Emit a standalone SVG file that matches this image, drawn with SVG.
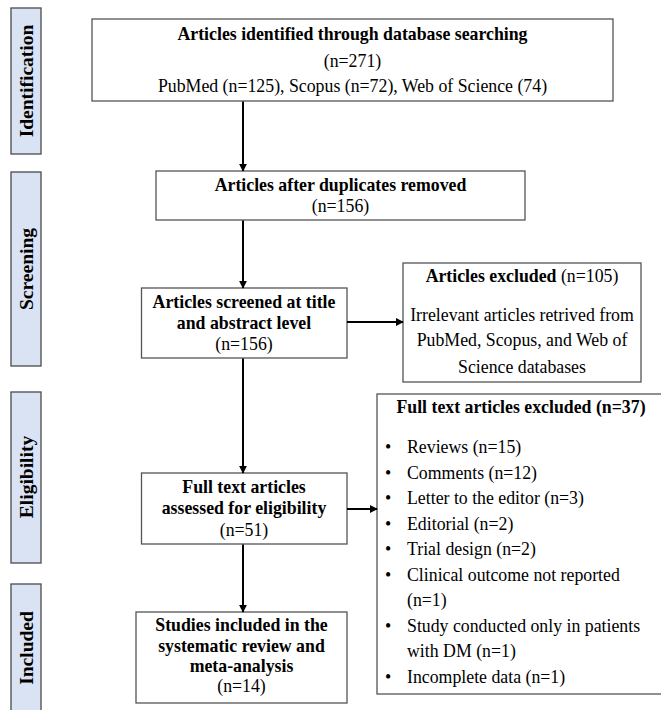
<svg xmlns="http://www.w3.org/2000/svg" width="661" height="710" viewBox="0 0 661 710">
<style>
.bg{fill:#ffffff}
.side{fill:#dae3f3;stroke:#4a4a4a;stroke-width:1.3}
.box{fill:#ffffff;stroke:#555555;stroke-width:1.3}
text{font-family:"Liberation Serif","Times New Roman",serif;font-size:17.8px;fill:#000}
.b{font-weight:bold}
.c{text-anchor:middle}
.lab{font-size:19.5px;font-weight:bold;text-anchor:middle}
.con{stroke:#000;stroke-width:2;fill:none;marker-end:url(#ah)}
</style>
<defs>
<marker id="ah" viewBox="0 0 10 10" refX="9" refY="5" markerWidth="4" markerHeight="4" orient="auto" markerUnits="strokeWidth">
<path d="M0,0 L10,5 L0,10 z" fill="#000"/>
</marker>
</defs>
<rect class="bg" x="0" y="0" width="661" height="710"/>
<g id="stage-identification">
<rect class="side" x="11" y="8" width="30" height="146"/>
<text class="lab" transform="translate(26,81) rotate(-90)" x="0" y="6.5">Identification</text>
</g>
<g id="stage-screening">
<rect class="side" x="11" y="172" width="30" height="194"/>
<text class="lab" transform="translate(26,269) rotate(-90)" x="0" y="6.5">Screening</text>
</g>
<g id="stage-eligibility">
<rect class="side" x="11" y="392" width="30" height="171"/>
<text class="lab" transform="translate(26,477) rotate(-90)" x="0" y="6.5">Eligibility</text>
</g>
<g id="stage-included">
<rect class="side" x="11" y="584" width="30" height="130"/>
<text class="lab" transform="translate(26,648) rotate(-90)" x="0" y="6.5">Included</text>
</g>
<g id="identified">
<rect class="box" x="92" y="19" width="521" height="82"/>
<text class="c b" x="352.5" y="40">Articles identified through database searching</text>
<text class="c" x="352.5" y="67">(n=271)</text>
<text class="c" x="352.5" y="92">PubMed (n=125), Scopus (n=72), Web of Science (74)</text>
</g>
<g id="duplicates">
<rect class="box" x="156" y="171" width="369" height="49"/>
<text class="c b" x="340.5" y="191">Articles after duplicates removed</text>
<text class="c" x="340.5" y="212">(n=156)</text>
</g>
<g id="screened">
<rect class="box" x="141.5" y="288" width="205.5" height="70"/>
<text class="c b" x="244" y="308">Articles screened at title</text>
<text class="c b" x="244" y="329">and abstract level</text>
<text class="c" x="244" y="350">(n=156)</text>
</g>
<g id="excluded">
<rect class="box" x="403" y="263" width="238" height="119"/>
<text class="c" x="522" y="282"><tspan class="b">Articles excluded</tspan> (n=105)</text>
<text class="c" x="522" y="321">Irrelevant articles retrived from</text>
<text class="c" x="522" y="346">PubMed, Scopus, and Web of</text>
<text class="c" x="522" y="373">Science databases</text>
</g>
<g id="fulltext">
<rect class="box" x="141.5" y="473" width="205.5" height="71"/>
<text class="c b" x="244" y="493">Full text articles</text>
<text class="c b" x="244" y="514">assessed for eligibility</text>
<text class="c" x="244" y="536">(n=51)</text>
</g>
<g id="fulltext-excluded">
<rect class="box" x="377" y="394" width="290" height="300"/>
<text class="c b" x="521" y="413">Full text articles excluded (n=37)</text>
<g>
<text x="385" y="453">•</text><text x="407" y="453">Reviews (n=15)</text>
<text x="385" y="478.5">•</text><text x="407" y="478.5">Comments (n=12)</text>
<text x="385" y="504">•</text><text x="407" y="504">Letter to the editor (n=3)</text>
<text x="385" y="529.5">•</text><text x="407" y="529.5">Editorial (n=2)</text>
<text x="385" y="555">•</text><text x="407" y="555">Trial design (n=2)</text>
<text x="385" y="580.5">•</text><text x="407" y="580.5">Clinical outcome not reported</text>
<text x="407" y="606">(n=1)</text>
<text x="385" y="631.5">•</text><text x="407" y="631.5">Study conducted only in patients</text>
<text x="407" y="657">with DM (n=1)</text>
<text x="385" y="682.5">•</text><text x="407" y="682.5">Incomplete data (n=1)</text>
</g>
</g>
<g id="included">
<rect class="box" x="136" y="612" width="211" height="91"/>
<text class="c b" x="241.5" y="631">Studies included in the</text>
<text class="c b" x="241.5" y="652">systematic review and</text>
<text class="c b" x="241.5" y="672">meta-analysis</text>
<text class="c" x="241.5" y="692">(n=14)</text>
</g>
<g id="connectors">
<line class="con" x1="243" y1="101.5" x2="243" y2="171"/>
<line class="con" x1="243" y1="220.5" x2="243" y2="288"/>
<line class="con" x1="347" y1="322" x2="403" y2="322"/>
<line class="con" x1="243" y1="358.5" x2="243" y2="473"/>
<line class="con" x1="347" y1="509" x2="377" y2="509"/>
<line class="con" x1="243" y1="544.5" x2="243" y2="612"/>
</g>
</svg>
